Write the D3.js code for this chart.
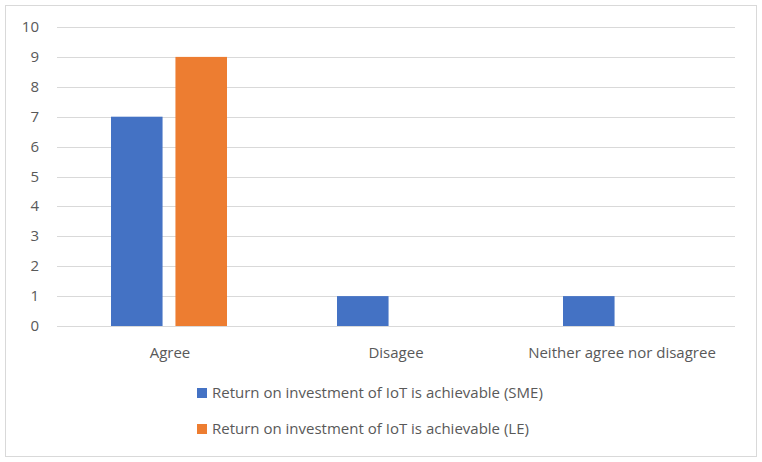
<!DOCTYPE html>
<html>
<head>
<meta charset="utf-8">
<script src="https://cdn.jsdelivr.net/npm/d3@7"></script>
<style>
  body { margin: 0; background: #fff; }
  text { font-family: "Open Sans", "Noto Sans", sans-serif; }
</style>
</head>
<body>
<div class="chart"></div>
<script>
// data
var categories = ["Agree", "Disagee", "Neither agree nor disagree"];
var seriesNames = ["Return on investment of IoT is achievable (SME)", "Return on investment of IoT is achievable (LE)"];
var smeValues = [7, 1, 1];
var leValues = [9, 0, 0];
var yTicks = [0, 1, 2, 3, 4, 5, 6, 7, 8, 9, 10];
var colors = ["#4472c4", "#ed7d31"];

var width = 762, height = 462;
var svg = d3.select(".chart").append("svg")
  .attr("width", width).attr("height", height);

// outer border
svg.append("rect")
  .attr("x", 5.5).attr("y", 5.5)
  .attr("width", 751).attr("height", 451)
  .attr("fill", "white").attr("stroke", "#d9d9d9");

var x0 = d3.scaleBand().domain(categories).range([57, 735]);
var x1 = d3.scaleBand().domain([0, 1]).range([54, 170]).paddingInner(0.2);
var y = d3.scaleLinear().domain([0, 10]).range([326, 27]);

// gridlines
svg.selectAll(".grid").data(yTicks).enter().append("line")
  .attr("x1", 57).attr("x2", 735)
  .attr("y1", function(d) { return Math.round(y(d)) + 0.5; })
  .attr("y2", function(d) { return Math.round(y(d)) + 0.5; })
  .attr("stroke", "#d9d9d9");

// y tick labels
svg.selectAll(".ylab").data(yTicks).enter().append("text")
  .attr("x", 39).attr("y", function(d) { return y(d) + 5; })
  .attr("text-anchor", "end")
  .style("font-size", "15px").style("fill", "#595959")
  .text(function(d) { return d; });

var series = [smeValues, leValues];
series.forEach(function(vals, si) {
  svg.selectAll(".bar" + si).data(vals).enter().append("rect")
    .attr("x", function(d, i) { return x0(categories[i]) + x1(si); })
    .attr("y", function(d) { return y(d); })
    .attr("width", x1.bandwidth())
    .attr("height", function(d) { return y(0) - y(d); })
    .attr("fill", colors[si]);
});

// x labels
svg.selectAll(".xlab").data(categories).enter().append("text")
  .attr("x", function(d) { return x0(d) + x0.bandwidth() / 2; })
  .attr("y", 358)
  .attr("text-anchor", "middle")
  .style("font-size", "15px").style("fill", "#595959")
  .text(function(d) { return d; });

// legend
seriesNames.forEach(function(name, i) {
  var ly = 393 + i * 36;
  svg.append("rect").attr("x", 197).attr("y", ly - 5)
    .attr("width", 10).attr("height", 10).attr("fill", colors[i]);
  svg.append("text").attr("x", 212).attr("y", ly + 5)
    .style("font-size", "15px").style("fill", "#595959")
    .text(name);
});
</script>
</body>
</html>
